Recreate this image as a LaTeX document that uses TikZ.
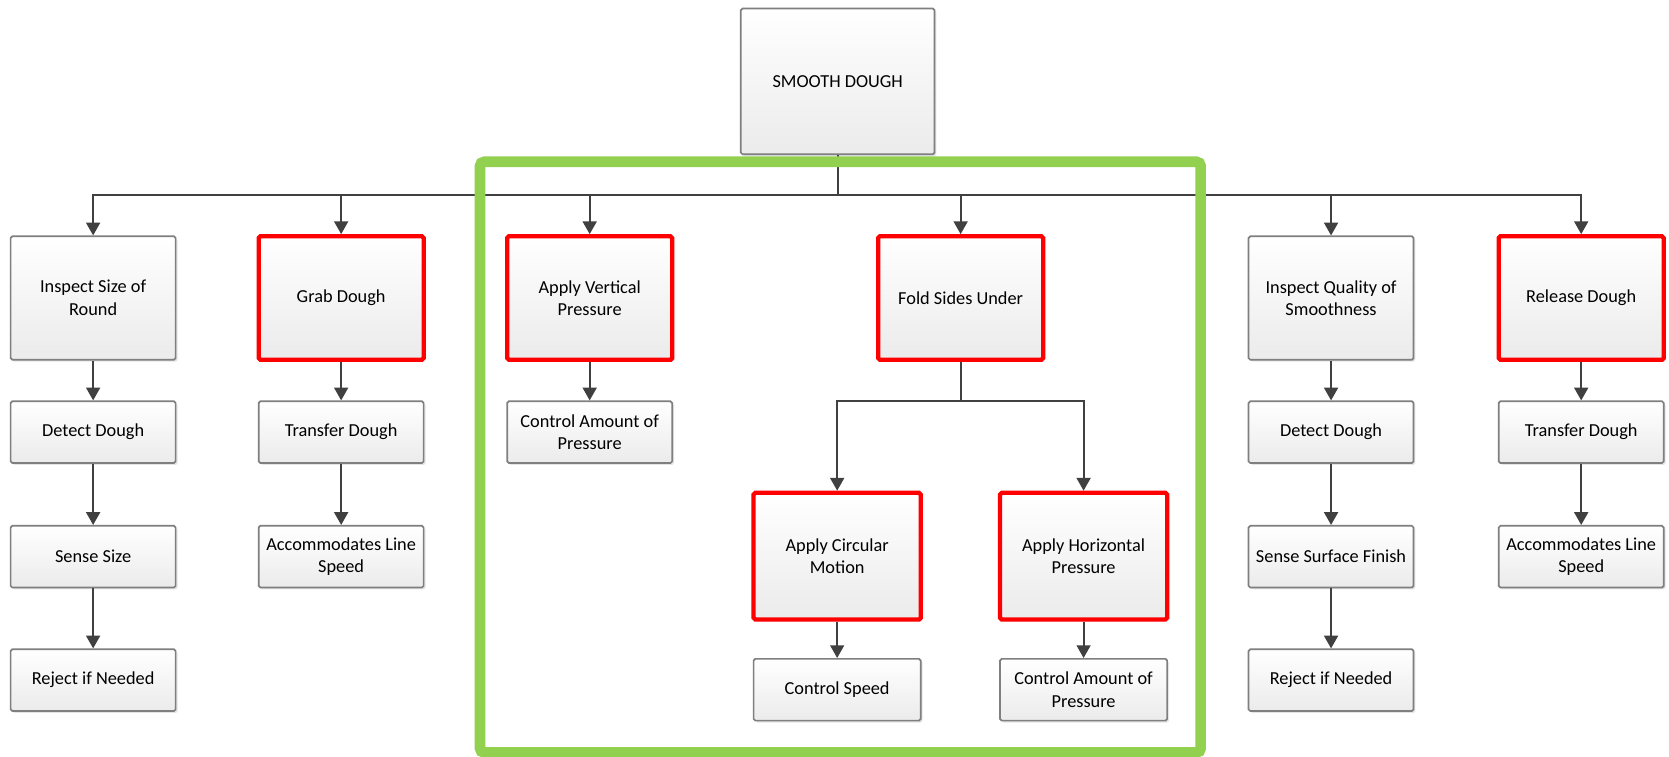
\documentclass[tikz,border=0pt]{standalone}
\usepackage{fontspec}
\setmainfont{Carlito}
\usetikzlibrary{arrows.meta,shadows}
\definecolor{linegray}{HTML}{404040}
\definecolor{boxgray}{HTML}{7F7F7F}
\definecolor{hlgreen}{HTML}{92D050}
\definecolor{fillbot}{HTML}{EBEBEB}
\tikzset{
  box/.style={draw=boxgray, line width=0.8pt, top color=white, bottom color=fillbot,
    rounded corners=0.8pt, align=center, inner sep=2pt,
    font=\fontsize{8.6}{10.6}\selectfont,
    drop shadow={opacity=0.2, shadow xshift=0.9pt, shadow yshift=-0.9pt}},
  tallbox/.style={box, minimum width=77.5pt, minimum height=58pt},
  smallbox/.style={box, minimum width=77.5pt, minimum height=29pt},
  redbox/.style={draw=red, line width=2pt},
  conn/.style={draw=linegray, line width=1pt},
  arr/.style={conn, -{Triangle[length=6pt,width=6.5pt]}},
}
\begin{document}
\begin{tikzpicture}[x=0.5pt,y=-0.5pt]
\useasboundingbox (0,0) rectangle (1568,711);
\fill[white] (0,0) rectangle (1568,711);

% root
\node[box, minimum width=91pt, minimum height=68.5pt] (root) at (787,76.5) {SMOOTH DOUGH};

% level 1
\node[tallbox] (a1) at (87.5,280) {Inspect Size of\\Round};
\node[tallbox, redbox] (b1) at (320.5,280) {Grab Dough};
\node[tallbox, redbox] (c1) at (554,280) {Apply Vertical\\Pressure};
\node[tallbox, redbox] (d1) at (902.5,280) {Fold Sides Under};
\node[tallbox] (e1) at (1250.5,280) {Inspect Quality of\\Smoothness};
\node[tallbox, redbox] (f1) at (1485.5,280) {Release Dough};

% level 2
\node[smallbox] (a2) at (87.5,406) {Detect Dough};
\node[smallbox] (b2) at (320.5,406) {Transfer Dough};
\node[smallbox] (c2) at (554,406) {Control Amount of\\Pressure};
\node[smallbox] (e2) at (1250.5,406) {Detect Dough};
\node[smallbox] (f2) at (1485.5,406) {Transfer Dough};

% level 3
\node[smallbox] (a3) at (87.5,523) {Sense Size};
\node[smallbox] (b3) at (320.5,523) {Accommodates Line\\Speed};
\node[smallbox] (e3) at (1250.5,523) {Sense Surface Finish};
\node[smallbox] (f3) at (1485.5,523) {Accommodates Line\\Speed};

% level 4
\node[smallbox] (a4) at (87.5,639) {Reject if Needed};
\node[smallbox] (e4) at (1250.5,639) {Reject if Needed};

% fold sub-branch
\node[box, redbox, minimum width=78.5pt, minimum height=59.5pt] (d2a) at (786.5,522.5) {Apply Circular\\Motion};
\node[box, redbox, minimum width=78.5pt, minimum height=59.5pt] (d2b) at (1018,522.5) {Apply Horizontal\\Pressure};
\node[smallbox, minimum width=78.5pt] (d3a) at (786.5,648) {Control Speed};
\node[smallbox, minimum width=78.5pt] (d3b) at (1018,648) {Control Amount of\\Pressure};

% connectors
\coordinate (bus) at (787,183);
\foreach \n in {a1,b1,c1,d1,e1,f1}{
  \draw[arr] (root.south) -- (bus) -| (\n.north);
}
\draw[arr] (a1) -- (a2);
\draw[arr] (a2) -- (a3);
\draw[arr] (a3) -- (a4);
\draw[arr] (b1) -- (b2);
\draw[arr] (b2) -- (b3);
\draw[arr] (c1) -- (c2);
\draw[arr] (e1) -- (e2);
\draw[arr] (e2) -- (e3);
\draw[arr] (e3) -- (e4);
\draw[arr] (f1) -- (f2);
\draw[arr] (f2) -- (f3);
\coordinate (fbus) at (902.5,377);
\draw[arr] (d1.south) -- (fbus) -| (d2a.north);
\draw[arr] (d1.south) -- (fbus) -| (d2b.north);
\draw[arr] (d2a) -- (d3a);
\draw[arr] (d2b) -- (d3b);

% green highlight
\draw[hlgreen, line width=5pt, rounded corners=2pt] (451,152) rectangle (1128,707);
\end{tikzpicture}
\end{document}
